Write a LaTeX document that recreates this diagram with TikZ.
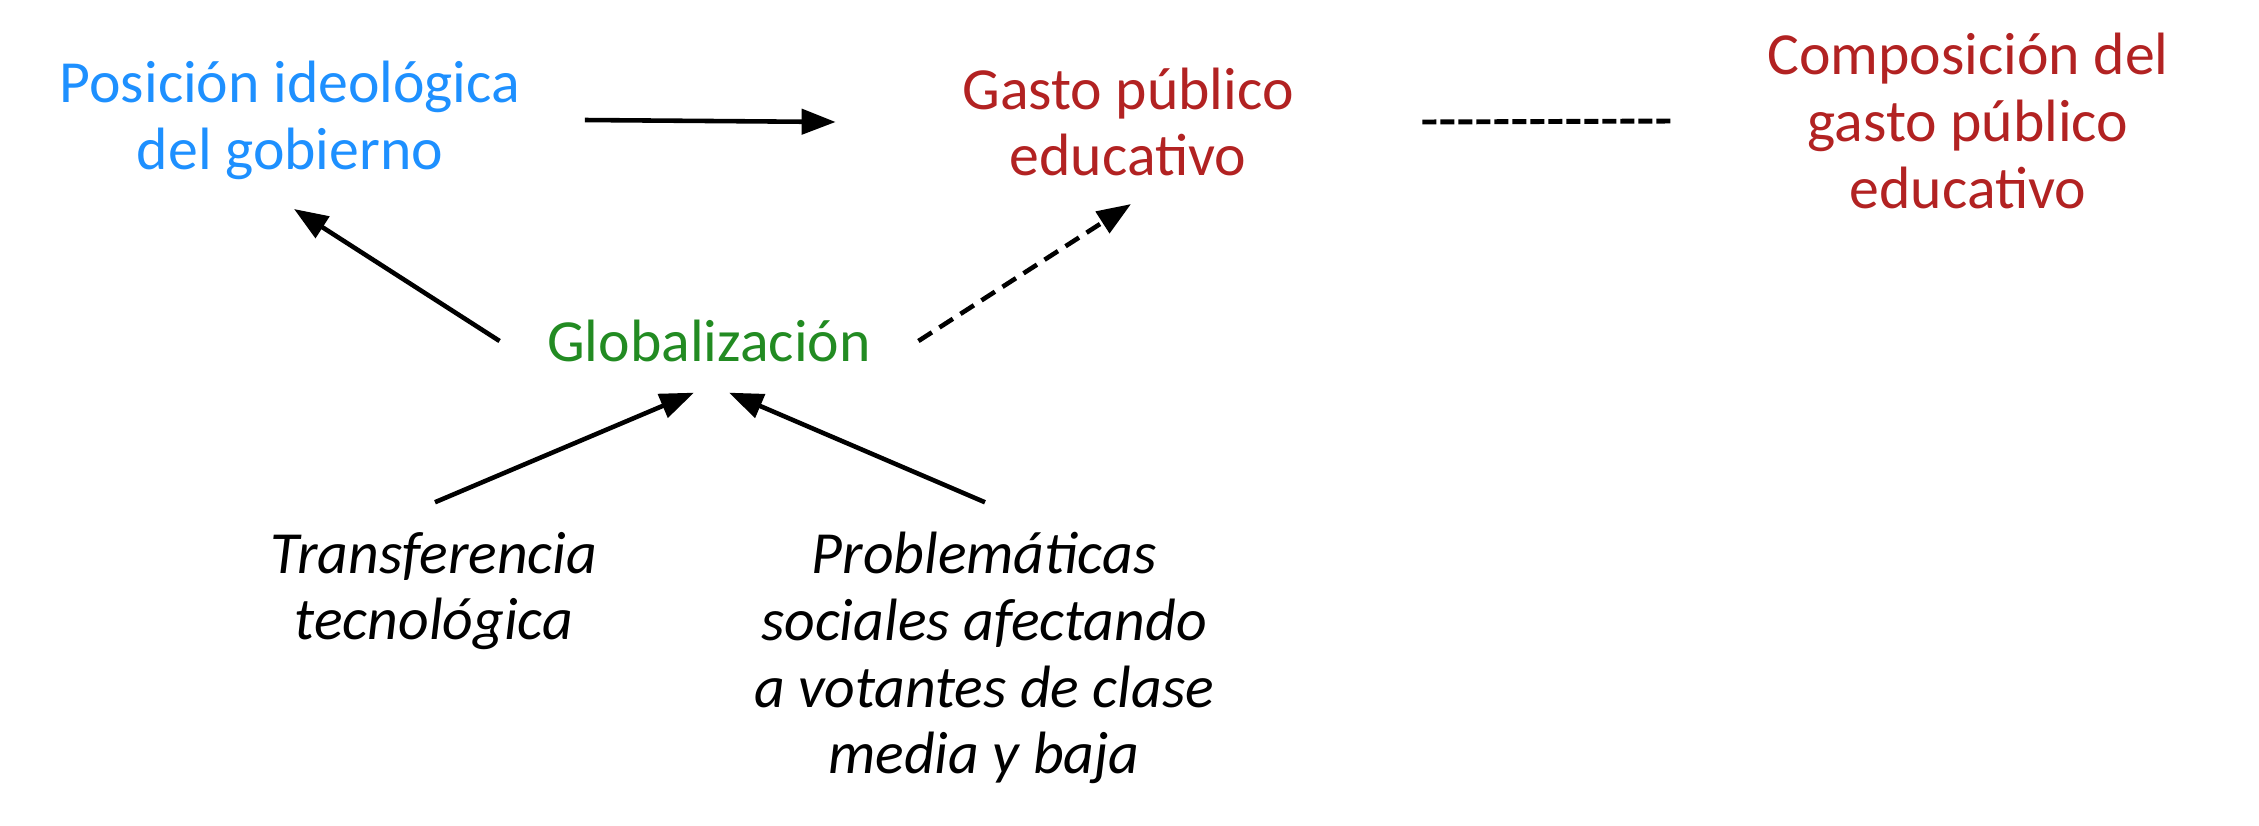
\documentclass[tikz,border=0pt]{standalone}
\usepackage{fontspec}
\setmainfont{Carlito}
\usetikzlibrary{positioning,arrows.meta,calc}
\definecolor{gbazul}{HTML}{1E90FF}
\definecolor{gbrojo}{HTML}{B22222}
\definecolor{gbverde}{HTML}{228B22}
\tikzset{
  gbtexto/.style={align=center, inner sep=0pt, font=\fontsize{17}{19}\selectfont},
  gbfactor/.style={gbtexto, font=\fontsize{17}{19}\selectfont\itshape},
  gbflecha/.style={-{Triangle[length=3.4mm, width=2.5mm]}, line width=1.3pt, draw=black},
  gbflechatrazos/.style={gbflecha, dash pattern=on 1.6mm off 0.9mm},
  gbtrazos/.style={line width=1.4pt, draw=black, dash pattern=on 1.4mm off 0.4mm},
}
\begin{document}
\begin{tikzpicture}
    \useasboundingbox (0,0) rectangle (22.59,-8.25);
    \node[gbtexto, text=gbazul] (pos) at (2.90,-1.20) {Posición ideológica\\del gobierno};
    \node[gbtexto, text=gbrojo] (gasto) at (11.28,-1.22) {Gasto público\\educativo};
    \node[gbtexto, text=gbrojo] (comp) at (19.68,-1.21) {Composición del\\gasto público\\educativo};
    \node[gbtexto, text=gbverde] (glob) at (7.09,-3.41) {Globalización};
    \node[gbfactor] (trans) at (4.34,-5.91) {Transferencia\\tecnológica};
    \node[gbfactor] (prob) at (9.84,-6.58) {Problemáticas\\sociales afectando\\a votantes de clase\\media y baja};
    \draw[gbflecha] ([xshift=6.4mm]pos.east) -- ([xshift=-12.6mm]gasto.west);
    \draw[gbtrazos] ([xshift=12.8mm]gasto.east) -- ([xshift=-9.4mm]comp.west);
    \draw[gbflecha] ([xshift=-4.7mm]glob.west) -- ([xshift=0.4mm, yshift=-2.9mm]pos.south);
    \draw[gbflechatrazos] ([xshift=4.7mm]glob.east) -- ([xshift=0.3mm, yshift=-2.7mm]gasto.south);
    \draw[gbflecha] ([xshift=0.1mm, yshift=2.9mm]trans.north) -- ([xshift=-1.5mm, yshift=-3mm]glob.south);
    \draw[gbflecha] ([xshift=0.1mm, yshift=2.9mm]prob.north) -- ([xshift=2mm, yshift=-3mm]glob.south);
\end{tikzpicture}
\end{document}
